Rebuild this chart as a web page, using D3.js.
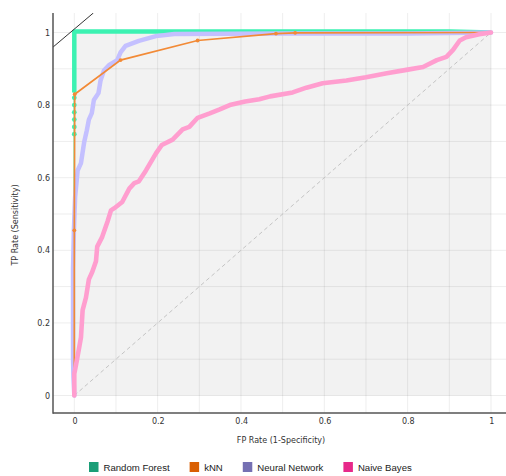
<!DOCTYPE html>
<html><head><meta charset="utf-8">
<script src="https://cdn.jsdelivr.net/npm/d3@7"></script>
<style>html,body{margin:0;padding:0;background:#fff;}svg{display:block;}</style>
</head><body>
<script>
// ---- data ----
const seriesNames = ["Random Forest", "kNN", "Neural Network", "Naive Bayes"];
const legendColors = ["#1b9e77", "#d95f02", "#7570b3", "#e7298a"];
const lineColors = ["#3cf2b2", "#f28a36", "#c4c0ff", "#ff9ecf"];
const xTicks = [0, 0.2, 0.4, 0.6, 0.8, 1];
const yTicks = [0, 0.2, 0.4, 0.6, 0.8, 1];
const xTickLabels = ["0", "0.2", "0.4", "0.6", "0.8", "1"];
const yTickLabels = ["0", "0.2", "0.4", "0.6", "0.8", "1"];
const gridValues = [0, 0.1, 0.2, 0.3, 0.4, 0.5, 0.6, 0.7, 0.8, 0.9, 1];

// Random Forest: sparse thresholds (dots) and dense part
const rfSparseFpr = [0, 0, 0, 0, 0, 0, 0];
const rfSparseTpr = [0, 0.72, 0.74, 0.76, 0.78, 0.80, 0.82];
const rfDenseFpr = [0, 0, 0, 0.02, 0.1, 0.3, 0.5, 0.7, 0.9, 1];
const rfDenseTpr = [0.835, 0.87, 1.003, 1.003, 1.003, 1.003, 1.003, 1.003, 1.003, 1];

// kNN
const knnFpr = [0, 0, 0.001, 0.111, 0.296, 0.484, 0.53, 1];
const knnTpr = [0, 0.455, 0.83, 0.924, 0.978, 0.997, 0.999, 1];

// Neural Network
const nnFpr = [0, -0.002, -0.003, -0.003, -0.003, -0.001, 0.002, 0.008, 0.016, 0.024, 0.03, 0.035, 0.042, 0.047, 0.058, 0.063, 0.071, 0.083, 0.103, 0.111, 0.123, 0.155, 0.196, 0.24, 0.5, 0.8, 1];
const nnTpr = [0, 0.05, 0.1, 0.2, 0.35, 0.455, 0.547, 0.62, 0.64, 0.70, 0.73, 0.76, 0.778, 0.814, 0.833, 0.868, 0.895, 0.91, 0.924, 0.945, 0.963, 0.977, 0.99, 0.996, 0.997, 0.997, 1];

// Naive Bayes
const nbFpr = [0, 0, 0.005, 0.012, 0.016, 0.02, 0.028, 0.035, 0.043, 0.052, 0.055, 0.067, 0.08, 0.088, 0.096, 0.115, 0.132, 0.144, 0.155, 0.172, 0.196, 0.21, 0.236, 0.26, 0.276, 0.296, 0.325, 0.349, 0.373, 0.41, 0.444, 0.47, 0.524, 0.557, 0.596, 0.653, 0.70, 0.75, 0.797, 0.837, 0.87, 0.893, 0.909, 0.925, 0.94, 0.972, 1];
const nbTpr = [0, 0.06, 0.09, 0.134, 0.16, 0.235, 0.27, 0.32, 0.34, 0.37, 0.41, 0.437, 0.48, 0.51, 0.516, 0.533, 0.57, 0.585, 0.59, 0.62, 0.667, 0.69, 0.705, 0.733, 0.74, 0.765, 0.777, 0.788, 0.80, 0.81, 0.816, 0.824, 0.835, 0.848, 0.86, 0.868, 0.877, 0.888, 0.897, 0.905, 0.924, 0.933, 0.952, 0.978, 0.987, 0.995, 1];

// diagonal and iso-performance line
const diagX = [0, 1], diagY = [0, 1];
const isoX = [-0.054, 0.046], isoY = [0.957, 1.054];

// ---- drawing ----
const W = 506, H = 476;
const svg = d3.select("body").append("svg").attr("width", W).attr("height", H);
const x = d3.scaleLinear().domain([0, 1]).range([74.3, 491]);
const y = d3.scaleLinear().domain([0, 1]).range([395.5, 32.5]);
const font = "DejaVu Sans, Verdana, sans-serif";
const L = 53, R = 506, T = 13, B = 413;

svg.append("defs").append("clipPath").attr("id", "clip")
  .append("rect").attr("x", L).attr("y", T).attr("width", R - L).attr("height", B - T);

// gray data area
svg.append("rect").attr("x", x(0)).attr("y", y(1)).attr("width", x(1) - x(0)).attr("height", y(0) - y(1)).attr("fill", "#f2f2f2");

// grid
const grid = svg.append("g").attr("stroke", "rgba(0,0,0,0.07)").attr("stroke-width", 1);
gridValues.forEach(v => {
  grid.append("line").attr("x1", x(v)).attr("x2", x(v)).attr("y1", T).attr("y2", B);
  grid.append("line").attr("y1", y(v)).attr("y2", y(v)).attr("x1", L).attr("x2", R);
});

const plot = svg.append("g").attr("clip-path", "url(#clip)");
const line = d3.line().x(d => x(d[0])).y(d => y(d[1]));
const zip = (a, b) => a.map((v, i) => [v, b[i]]);

// diagonal
plot.append("path").datum(zip(diagX, diagY)).attr("d", line).attr("fill", "none")
  .attr("stroke", "#c4c4c4").attr("stroke-width", 1).attr("stroke-dasharray", "4,3");

// Random Forest
plot.append("path").datum(zip(rfSparseFpr, rfSparseTpr).concat(zip(rfDenseFpr, rfDenseTpr))).attr("d", line)
  .attr("fill", "none").attr("stroke", lineColors[0]).attr("stroke-width", 1.5);
plot.append("path").datum(zip(rfDenseFpr, rfDenseTpr)).attr("d", line)
  .attr("fill", "none").attr("stroke", lineColors[0]).attr("stroke-width", 4.5).attr("stroke-linejoin", "round");
plot.selectAll("circle.rf").data(zip(rfSparseFpr, rfSparseTpr).slice(1)).enter().append("circle")
  .attr("cx", d => x(d[0])).attr("cy", d => y(d[1])).attr("r", 2.4).attr("fill", lineColors[0]);

// Neural Network
plot.append("path").datum(zip(nnFpr, nnTpr)).attr("d", line)
  .attr("fill", "none").attr("stroke", lineColors[2]).attr("stroke-width", 4.5).attr("stroke-linejoin", "round").attr("stroke-linecap", "round");

// kNN
plot.append("path").datum(zip(knnFpr, knnTpr)).attr("d", line)
  .attr("fill", "none").attr("stroke", lineColors[1]).attr("stroke-width", 1.7);
plot.selectAll("circle.knn").data(zip(knnFpr, knnTpr).slice(1, -1)).enter().append("circle")
  .attr("cx", d => x(d[0])).attr("cy", d => y(d[1])).attr("r", 1.9).attr("fill", lineColors[1]);

// Naive Bayes
plot.append("path").datum(zip(nbFpr, nbTpr)).attr("d", line)
  .attr("fill", "none").attr("stroke", lineColors[3]).attr("stroke-width", 4.6).attr("stroke-linejoin", "round").attr("stroke-linecap", "round");

// iso-performance line
plot.append("path").datum(zip(isoX, isoY)).attr("d", line).attr("fill", "none").attr("stroke", "#333").attr("stroke-width", 1);

// axes
svg.append("line").attr("x1", L).attr("x2", L).attr("y1", T).attr("y2", B + 0.75).attr("stroke", "#555").attr("stroke-width", 1.5);
svg.append("line").attr("x1", L).attr("x2", R).attr("y1", B).attr("y2", B).attr("stroke", "#555").attr("stroke-width", 1.5);

xTicks.forEach((v, i) => {
  svg.append("text").attr("x", x(v) + 0.7).attr("y", 424).attr("text-anchor", "middle")
    .attr("font-family", font).attr("font-size", 8).attr("fill", "#333").text(xTickLabels[i]);
});
yTicks.forEach((v, i) => {
  svg.append("text").attr("x", 50).attr("y", y(v) + 3).attr("text-anchor", "end")
    .attr("font-family", font).attr("font-size", 8).attr("fill", "#333").text(yTickLabels[i]);
});

svg.append("text").attr("x", 281).attr("y", 443).attr("text-anchor", "middle")
  .attr("font-family", font).attr("font-size", 8).attr("fill", "#333").text("FP Rate (1-Specificity)");
svg.append("text").attr("transform", "translate(18,225) rotate(-90)").attr("text-anchor", "middle")
  .attr("font-family", font).attr("font-size", 8).attr("fill", "#333").text("TP Rate (Sensitivity)");

// legend
const lg = svg.append("g");
let lx = 89;
seriesNames.forEach((n, i) => {
  lg.append("rect").attr("x", lx).attr("y", 462).attr("width", 9.5).attr("height", 10).attr("fill", legendColors[i]);
  const t = lg.append("text").attr("x", lx + 14.5).attr("y", 471).attr("font-family", "Liberation Sans, Arial, sans-serif")
    .attr("font-size", 9.6).attr("fill", "#222").text(n);
  lx = lx + 14.5 + t.node().getComputedTextLength() + 20;
});
</script>
</body></html>
